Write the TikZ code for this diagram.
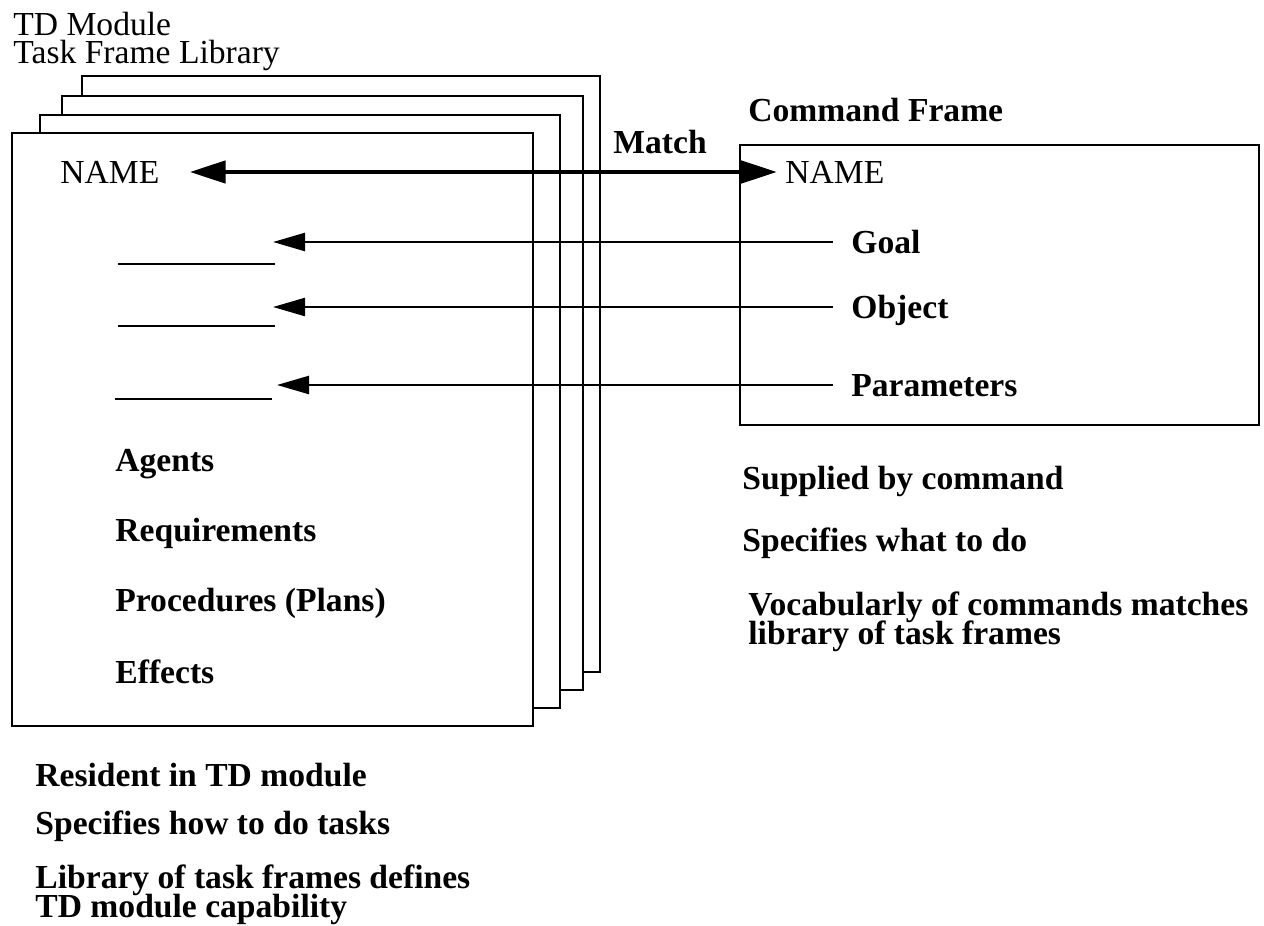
\documentclass[tikz,border=0pt]{standalone}
\usepackage{fontspec}
\setmainfont{Liberation Serif}
\usetikzlibrary{arrows.meta,positioning}
\tikzset{
  card/.style={draw,fill=white,line width=1.2pt},
  field/.style={font=\fontsize{16.8}{14.5}\selectfont\bfseries,inner sep=0pt,text height=11pt,text depth=0pt,anchor=west},
  plain/.style={font=\fontsize{16.8}{14.5}\selectfont,inner sep=0pt,text height=11pt,text depth=0pt,anchor=west},
  note/.style={font={\fontsize{16.8}{14.5}\selectfont\lineskiplimit=-20pt\bfseries},inner sep=0pt,anchor=base west,align=left},
  heading/.style={font={\fontsize{16.8}{14}\selectfont\lineskiplimit=-20pt},inner sep=0pt,anchor=base west,align=left},
  slot/.style={line width=1pt},
  feed/.style={line width=1.2pt,{Triangle[length=16pt,width=9pt]}-},
  match/.style={line width=2.4pt,{Triangle[length=18pt,width=11pt]}-{Triangle[length=18pt,width=11pt]}}
}
\begin{document}
\begin{tikzpicture}[x=0.5pt,y=-0.5pt]
  \useasboundingbox (0,0) rectangle (1264,926);

  % --- Task frame library (stacked cards, back to front) ---
  \draw[card] (82,76)  rectangle (600,672);
  \draw[card] (62,96)  rectangle (583,690);
  \draw[card] (40,115) rectangle (560,708);
  \draw[card] (12,133) rectangle (533,726);
  \node[heading] (lib) at (13,63) {TD Module\\Task Frame Library};

  % --- Command frame ---
  \draw[card] (740,145) rectangle (1259,425);
  \node[field] (cmd) at (748,110) {Command Frame};

  % --- Slots of the task frame ---
  \node[plain] (nameL) at (60,172) {NAME};
  \draw[slot] (118,264) -- (275,264);
  \draw[slot] (118,326) -- (275,326);
  \draw[slot] (115,399) -- (272,399);
  \coordinate (slotG) at (273,242);
  \coordinate (slotO) at (273,307);
  \coordinate (slotP) at (277,385);
  \node[field] (agents) at (115,460) {Agents};
  \node[field] (reqs)   at (115,530) {Requirements};
  \node[field] (procs)  at (115,600) {Procedures (Plans)};
  \node[field] (effs)   at (115,672) {Effects};

  % --- Slots of the command frame ---
  \node[plain] (nameR) at (785,172) {NAME};
  \node[field] (goal)   at (851,242) {Goal};
  \node[field] (object) at (851,307) {Object};
  \node[field] (params) at (851,385) {Parameters};

  % --- Connectors ---
  \draw[match] ([xshift=15pt]nameL.east) -- ([xshift=-4pt]nameR.west);
  \node[field] (matchlbl) at (613,142) {Match};
  \draw[feed] (slotG) -- ([xshift=-9pt]goal.west);
  \draw[feed] (slotO) -- ([xshift=-9pt]object.west);
  \draw[feed] (slotP) -- ([xshift=-9pt]params.west);

  % --- Notes ---
  \node[field] (sup)  at (742,478) {Supplied by command};
  \node[field] (what) at (742,540) {Specifies what to do};
  \node[note]  (voc)  at (748,644) {Vocabularly of commands matches\\library of task frames};
  \node[field] (res)  at (35,775) {Resident in TD module};
  \node[field] (how)  at (35,823) {Specifies how to do tasks};
  \node[note]  (cap)  at (35,917) {Library of task frames defines\\TD module capability};
\end{tikzpicture}
\end{document}
